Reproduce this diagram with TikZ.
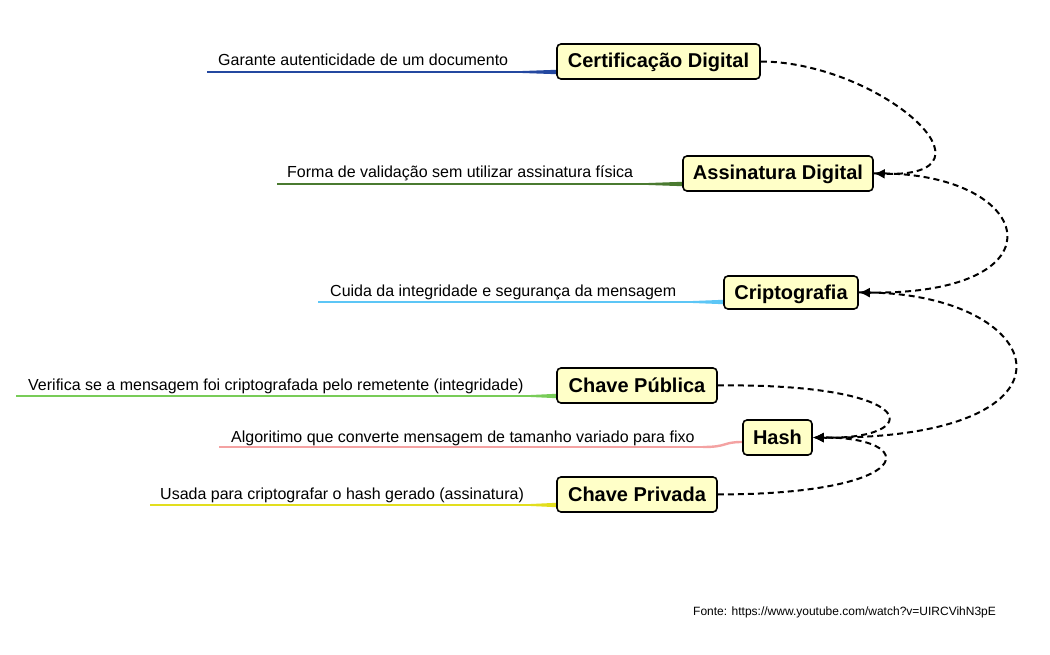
\documentclass[tikz,border=0pt]{standalone}
\usepackage{fontspec}
\setmainfont{Liberation Sans}
\usetikzlibrary{arrows.meta}
\definecolor{boxfill}{HTML}{FFFFC8}
\definecolor{cblue}{HTML}{2448A0}
\definecolor{cdgreen}{HTML}{4A7A30}
\definecolor{ccyan}{HTML}{5CC6F6}
\definecolor{cgreen}{HTML}{78CC58}
\definecolor{cpink}{HTML}{F4A2A2}
\definecolor{cyellow}{HTML}{E2DE1E}
\pgfdeclarelayer{bg}
\pgfsetlayers{bg,main}
\begin{document}
\begin{tikzpicture}[x=1pt,y=-1pt,
  box/.style={draw=black, line width=1.6pt, rounded corners=4pt, fill=boxfill,
    font=\fontsize{20}{24}\selectfont\bfseries, minimum height=35pt, inner sep=0pt,
    text height=16pt, text depth=3pt},
  lbl/.style={anchor=base west, inner sep=0pt, font=\fontsize{16}{19}\selectfont},
  thin/.style={line width=1.6pt},
  rel/.style={dash pattern=on 6pt off 4pt, line width=2pt},
  relarrow/.style={rel, -{Latex[length=11pt,width=10pt]}}
]
\useasboundingbox (0,0) rectangle (1050,655);

% boxes
\node[box, minimum width=203pt] (cert) at (658.5,61.5) {Certificação Digital};
\node[box, minimum width=190pt] (assin) at (778,173.5) {Assinatura Digital};
\node[box, minimum width=134pt, minimum height=33pt] (cripto) at (791,292.5) {Criptografia};
\node[box, minimum width=160pt] (pub) at (637,385.5) {Chave Pública};
\node[box, minimum width=69pt] (hash) at (777.5,437.5) {Hash};
\node[box, minimum width=160pt] (priv) at (637,494.5) {Chave Privada};

% labels
\node[lbl] (l1) at (218,66) {Garante autenticidade de um documento};
\node[lbl] (l2) at (287,178) {Forma de validação sem utilizar assinatura física};
\node[lbl] (l3) at (330,297) {Cuida da integridade e segurança da mensagem};
\node[lbl] (l4) at (28,390) {Verifica se a mensagem foi criptografada pelo remetente (integridade)};
\node[lbl] (l5) at (231,442) {Algoritimo que converte mensagem de tamanho variado para fixo};
\node[lbl] (l6) at (160,499) {Usada para criptografar o hash gerado (assinatura)};

\node[anchor=base west, inner sep=0pt, font=\fontsize{12}{14}\selectfont] (src) at (693,615)
  {Fonte: https://www.youtube.com/watch?v=UIRCVihN3pE};

% branch lines
\coordinate (s1) at (207,72);  \coordinate (m1) at (517,72);
\coordinate (s2) at (277,184); \coordinate (m2) at (643,184);
\coordinate (s3) at (318,302); \coordinate (m3) at (688,302);
\coordinate (s4) at (16,396);  \coordinate (m4) at (527,396);
\coordinate (s5) at (219,447); \coordinate (m5) at (703,447);
\coordinate (s6) at (150,505); \coordinate (m6) at (527,505);
\coordinate (e1) at (cert.west |- m1);
\coordinate (e2) at (assin.west |- m2);
\coordinate (e3) at (cripto.west |- m3);
\coordinate (e4) at (pub.west |- m4);
\coordinate (e6) at (priv.west |- m6);
\coordinate (e5) at ([yshift=5pt]hash.west |- m5);
\begin{pgfonlayer}{bg}
\fill[white] (0,0) rectangle (1050,655);
\foreach \i/\c in {1/cblue,2/cdgreen,3/ccyan,4/cgreen,6/cyellow}{
  \draw[thin, \c] (s\i) -- (m\i);
  \fill[\c] ([yshift=0.8pt]m\i) -- ([yshift=2.2pt]e\i) -- ([yshift=-2.2pt]e\i) -- ([yshift=-0.8pt]m\i) -- cycle;
}
\draw[thin, cpink] (s5) -- (m5);
\draw[cpink, line width=2.4pt] (m5) .. controls ++(25,0) and ++(-20,0) .. (e5);
\end{pgfonlayer}

% dashed relations
\draw[relarrow] (cert.east) .. controls (880,62) and (1010,178) .. (assin.east);
\draw[relarrow] (assin.east) .. controls (1035,170) and (1070,295) .. (cripto.east);
\draw[relarrow] (cripto.east) .. controls (1050,290) and (1100,440) .. (hash.east);
\draw[relarrow] (pub.east) .. controls (925,383) and (925,440) .. (hash.east);
\draw[relarrow] (priv.east) .. controls (920,494) and (920,437) .. (hash.east);
\end{tikzpicture}
\end{document}
